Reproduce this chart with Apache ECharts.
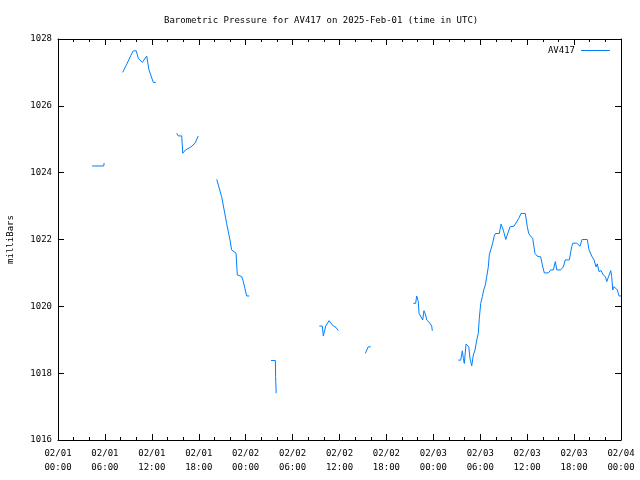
<!DOCTYPE html>
<html>
<head>
<meta charset="utf-8">
<script src="https://cdn.jsdelivr.net/npm/echarts@6/dist/echarts.min.js"></script>
<style>html,body{margin:0;padding:0;background:#fff}#c{width:640px;height:480px}</style>
</head>
<body>
<div id="c"></div>
<script>
// hours after 2025-02-01 00:00 UTC; null pressure = gap in record
var hours = [
  4.35, 5.85, 5.9, 6.5,
  8.27, 8.8, 9.3, 9.6, 9.85, 10.0, 10.27, 10.78, 11.34, 11.64, 12.19, 12.5, 13,
  15.18, 15.38, 15.82, 15.95, 16.3, 17.0, 17.52, 17.94, 19,
  20.3, 20.45, 20.93, 21.57, 22.0, 22.2, 22.77, 22.93, 23.5, 23.7, 24.13, 24.47, 25.5,
  27.24, 27.8, 27.83, 27.9, 29,
  33.42, 33.8, 33.93, 34.24, 34.66, 34.91, 35.21, 35.55, 35.85, 37,
  39.3, 39.68, 39.99, 42,
  45.44, 45.74, 45.87, 46.08, 46.17, 46.42, 46.64, 46.8, 47.02, 47.15, 47.48, 47.79, 47.87, 49,
  51.2, 51.5, 51.71, 51.84, 51.96, 52.18, 52.35, 52.53, 52.69, 52.91, 53.11, 53.33, 53.55, 53.75,
  53.88, 54.06, 54.27, 54.44, 54.65, 54.83, 55.03, 55.16, 55.34, 55.59, 55.76, 55.93, 56.44, 56.66,
  56.95, 57.26, 57.51, 57.81, 58.32, 58.66, 58.92, 59.21, 59.76, 60.02, 60.2, 60.45, 60.71, 61.0,
  61.3, 61.73, 61.94, 62.19, 62.71, 63.01, 63.35, 63.6, 63.78, 64.29, 64.62, 64.88, 65.39, 65.7,
  65.83, 66.34, 66.76, 67.02, 67.69, 67.91, 68.26, 68.55, 68.81, 68.97, 69.19, 69.45, 69.74, 70.0,
  70.18, 70.38, 70.69, 70.81, 70.94, 71.11, 71.33, 71.53, 71.75, 72.0
];
var pressure = [
  1024.2, 1024.2, 1024.29, null,
  1027.0, 1027.25, 1027.5, 1027.64, 1027.69, 1027.65, 1027.42, 1027.3, 1027.49, 1027.07, 1026.7, 1026.7, null,
  1025.18, 1025.1, 1025.1, 1024.58, 1024.68, 1024.77, 1024.88, 1025.1, null,
  1023.8, 1023.78, 1023.28, 1022.48, 1021.98, 1021.69, 1021.59, 1020.94, 1020.89, 1020.74, 1020.31, 1020.31, null,
  1018.38, 1018.38, 1017.9, 1017.4, null,
  1019.41, 1019.41, 1019.11, 1019.41, 1019.57, 1019.57, 1019.41, 1019.37, 1019.27, null,
  1018.59, 1018.79, 1018.79, null,
  1020.09, 1020.09, 1020.31, 1020.14, 1019.79, 1019.79, 1019.59, 1019.87, 1019.74, 1019.59, 1019.52, 1019.41, 1019.27, null,
  1018.39, 1018.39, 1018.67, 1018.44, 1018.29, 1018.87, 1018.87, 1018.79, 1018.44, 1018.22, 1018.54, 1018.69, 1018.99, 1019.19,
  1019.64, 1020.09, 1020.29, 1020.49, 1020.64, 1020.89, 1021.18, 1021.54, 1021.69, 1021.89, 1022.08, 1022.18, 1022.18, 1022.46,
  1022.28, 1022.0, 1022.0, 1022.38, 1022.4, 1022.53, 1022.63, 1022.78, 1022.78, 1022.38, 1022.18, 1022.1, 1022.03, 1021.58,
  1021.5, 1021.48, 1021.24, 1021.0, 1021.0, 1021.09, 1021.09, 1021.34, 1021.09, 1021.09, 1021.18, 1021.39, 1021.39, 1021.79,
  1021.89, 1021.89, 1021.8, 1022.0, 1022.0, 1021.69, 1021.5, 1021.39, 1021.18, 1021.27, 1021.04, 1021.07, 1020.94, 1020.89,
  1020.74, 1020.87, 1021.07, 1020.89, 1020.49, 1020.59, 1020.61, 1020.49, 1020.31, 1020.31
];
var xTickLabels = [
  '02/01\n00:00', '02/01\n06:00', '02/01\n12:00', '02/01\n18:00',
  '02/02\n00:00', '02/02\n06:00', '02/02\n12:00', '02/02\n18:00',
  '02/03\n00:00', '02/03\n06:00', '02/03\n12:00', '02/03\n18:00',
  '02/04\n00:00'
];
var seriesName = 'AV417';
var titleText = 'Barometric Pressure for AV417 on 2025-Feb-01 (time in UTC)';

var data = hours.map(function (h, i) { return [h, pressure[i] == null ? '-' : pressure[i]]; });
var mono = 'DejaVu Sans Mono';
var axisBase = {
  axisLine: { show: true, onZero: false, lineStyle: { color: '#000', width: 1 } },
  splitLine: { show: false }
};
var chart = echarts.init(document.getElementById('c'), null, { renderer: 'canvas' });
chart.setOption({
  animation: false,
  backgroundColor: '#fff',
  title: {
    text: titleText, left: 164, top: 16, padding: 0,
    textStyle: { fontFamily: mono, fontSize: 9, fontWeight: 'normal', color: '#000' }
  },
  legend: {
    data: [{ name: seriesName, icon: 'rect' }], right: 30, top: 46, align: 'right', padding: 0,
    itemWidth: 29, itemHeight: 1, itemGap: 6,
    textStyle: { fontFamily: mono, fontSize: 9, color: '#000', padding: [0, 1, 0, 0] }
  },
  grid: { left: 58, right: 19, top: 39, bottom: 40, containLabel: false, outerBoundsMode: 'none' },
  xAxis: [
    Object.assign({}, axisBase, {
      type: 'value', position: 'bottom', min: 0, max: 72, interval: 6,
      axisTick: { show: true, inside: true, length: 6, lineStyle: { color: '#000' } },
      minorTick: { show: true, splitNumber: 3, length: 3, lineStyle: { color: '#000' } },
      axisLabel: {
        margin: 7, fontFamily: mono, fontSize: 9, color: '#000', lineHeight: 14,
        formatter: function (v) { return xTickLabels[Math.round(v / 6)]; }
      }
    }),
    Object.assign({}, axisBase, {
      type: 'value', position: 'top', min: 0, max: 72, interval: 6,
      axisTick: { show: true, inside: true, length: 6, lineStyle: { color: '#000' } },
      minorTick: { show: true, splitNumber: 3, length: 3, lineStyle: { color: '#000' } },
      axisLabel: { show: false }
    })
  ],
  yAxis: [
    Object.assign({}, axisBase, {
      type: 'value', position: 'left', min: 1016, max: 1028, interval: 2,
      name: 'milliBars', nameLocation: 'middle', nameRotate: 90, nameGap: 43,
      nameTextStyle: { fontFamily: mono, fontSize: 9, color: '#000' },
      axisTick: { show: true, inside: true, length: 6, lineStyle: { color: '#000' } },
      axisLabel: {
        margin: 6, fontFamily: mono, fontSize: 9, color: '#000',
        formatter: function (v) { return String(v); }
      }
    }),
    Object.assign({}, axisBase, {
      type: 'value', position: 'right', min: 1016, max: 1028, interval: 2,
      axisTick: { show: true, inside: true, length: 6, lineStyle: { color: '#000' } },
      axisLabel: { show: false }
    })
  ],
  series: [{
    name: seriesName, type: 'line', data: data,
    xAxisIndex: 0, yAxisIndex: 0,
    symbol: 'none', showSymbol: false, connectNulls: false,
    lineStyle: { color: '#0080ff', width: 1 },
    itemStyle: { color: '#0080ff' }
  }]
});
</script>
</body>
</html>
